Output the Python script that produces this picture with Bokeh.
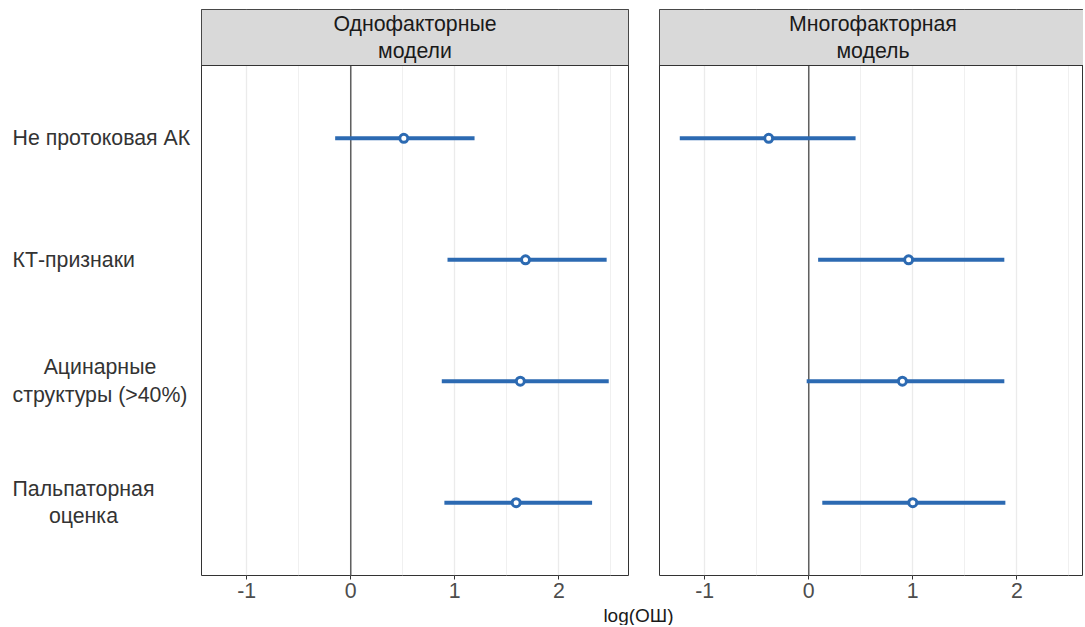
from bokeh.plotting import figure
from bokeh.layouts import row, column
from bokeh.models import Range1d, FixedTicker
from bokeh.core.properties import value
from bokeh.embed import file_html
from bokeh.resources import INLINE

# ---------------- data ----------------
predictors = ["Не протоковая АК", "КТ-признаки", "Ацинарные\nструктуры (>40%)", "Пальпаторная\nоценка"]
panel_titles = ["Однофакторные\nмодели", "Многофакторная\nмодель"]

uni_est = [0.51, 1.68, 1.63, 1.59]
uni_lo = [-0.15, 0.93, 0.875, 0.90]
uni_hi = [1.19, 2.46, 2.48, 2.32]

multi_est = [-0.385, 0.96, 0.90, 1.00]
multi_lo = [-1.24, 0.09, -0.02, 0.13]
multi_hi = [0.45, 1.88, 1.88, 1.89]

x_ticks = [-1, 0, 1, 2]
x_minor = [-0.5, 0.5, 1.5, 2.5]
x_tick_labels = ["-1", "0", "1", "2"]
x_title = "log(ОШ)"

# ---------------- style ----------------
FONT = "Liberation Sans"
FS = "21.3px"
FS_TITLE = "19px"
BLUE = "#2c6ab2"
BORDER = "#333333"

n = len(predictors)
ys = [n - i for i in range(n)]          # first predictor on top

MARGIN = 8
LAB_W = 193 + MARGIN   # label column width (includes page margin)
FRAME_W = 427          # panel frame width
FRAME_H = 566          # frame height incl. strip
STRIP_H = 56
TOP_B = 1 + MARGIN
BOT_B = 30
FIG_H = TOP_B + FRAME_H + BOT_B
GAP_HALF_L = 15
GAP_HALF_R = 16
P2_FRAME_W = 424

y_lo, y_hi_panel = 0.4, n + 0.6
units_per_px = (y_hi_panel - y_lo) / (FRAME_H - STRIP_H)
y_top = y_hi_panel + STRIP_H * units_per_px

x_start = -1.435
x_end1 = 2.67
x_end2 = x_start + (x_end1 - x_start) * P2_FRAME_W / FRAME_W


def make_panel(title, est, lo, hi, frame_w, bl, br, x_end):
    p = figure(width=bl + frame_w + br, height=FIG_H,
               x_range=Range1d(x_start, x_end), y_range=Range1d(y_lo, y_top),
               output_backend="svg", toolbar_location=None, y_axis_location=None,
               min_border_left=bl, min_border_right=br,
               min_border_top=TOP_B, min_border_bottom=BOT_B)
    p.background_fill_color = "white"
    p.border_fill_color = "white"
    p.outline_line_color = BORDER
    p.outline_line_width = 1
    p.ygrid.visible = False
    p.xgrid.ticker = FixedTicker(ticks=x_ticks, minor_ticks=x_minor)
    p.xgrid.grid_line_color = "#ebebeb"
    p.xgrid.grid_line_width = 1.3
    p.xgrid.minor_grid_line_color = "#eeeeee"
    p.xgrid.minor_grid_line_width = 0.9

    ax = p.xaxis[0]
    ax.ticker = FixedTicker(ticks=x_ticks)
    ax.major_label_overrides = {t: l for t, l in zip(x_ticks, x_tick_labels)}
    ax.axis_line_color = None
    ax.major_tick_line_color = BORDER
    ax.major_tick_out = 4
    ax.major_tick_in = 0
    ax.minor_tick_line_color = None
    ax.major_label_standoff = 3
    ax.major_label_text_font = FONT
    ax.major_label_text_font_size = FS
    ax.major_label_text_color = "#4d4d4d"

    # zero reference line
    p.segment(x0=[0], y0=[y_lo], x1=[0], y1=[y_hi_panel], line_color="#5e5e5e", line_width=1.5)

    # confidence intervals
    p.segment(x0=lo, y0=ys, x1=hi, y1=ys, line_color=BLUE, line_width=4, line_cap="butt")
    p.scatter(x=est, y=ys, size=8, fill_color="white", line_color=BLUE, line_width=3)

    # strip
    p.quad(left=[x_start], right=[x_end], bottom=[y_hi_panel], top=[y_top],
           fill_color="#d9d9d9", line_color=BORDER, line_width=1)
    xm = x_start + (x_end1 - x_start) / 2
    p.text(x=[xm], y=[(y_hi_panel + y_top) / 2], text=[title],
           text_align="center", text_baseline="middle", text_line_height=1.1,
           text_font=value(FONT), text_font_size=FS, text_color="#1a1a1a")
    return p


# label column
lab = figure(width=LAB_W, height=FIG_H, x_range=Range1d(0, LAB_W), y_range=Range1d(y_lo, y_top),
             output_backend="svg", toolbar_location=None,
             x_axis_location=None, y_axis_location=None,
             min_border_left=0, min_border_right=0, min_border_top=TOP_B, min_border_bottom=BOT_B)
lab.outline_line_color = None
lab.xgrid.visible = False
lab.ygrid.visible = False
lab.text(x=[MARGIN + 4] * n, y=ys, text=predictors, anchor="center_left", text_align="center",
         text_baseline="middle", text_line_height=1.15,
         text_font=value(FONT), text_font_size=FS, text_color="#333333")

p1 = make_panel(panel_titles[0], uni_est, uni_lo, uni_hi, FRAME_W, 0, GAP_HALF_L, x_end1)
p2 = make_panel(panel_titles[1], multi_est, multi_lo, multi_hi, P2_FRAME_W, GAP_HALF_R, 0, x_end2)

TOTAL_W = LAB_W + p1.width + p2.width
T_H = 20
tfig = figure(width=TOTAL_W, height=T_H, x_range=Range1d(0, TOTAL_W), y_range=Range1d(0, T_H),
              output_backend="svg", toolbar_location=None,
              x_axis_location=None, y_axis_location=None,
              min_border=0)
tfig.outline_line_color = None
tfig.xgrid.visible = False
tfig.ygrid.visible = False
title_x = LAB_W + FRAME_W + GAP_HALF_L - 5
tfig.text(x=[title_x], y=[T_H / 2], text=[x_title],
          text_align="center", text_baseline="middle",
          text_font=value(FONT), text_font_size=FS_TITLE, text_color="#1a1a1a")

layout = column(row(lab, p1, p2), tfig)
open("out.html", "w").write(file_html(layout, INLINE))
